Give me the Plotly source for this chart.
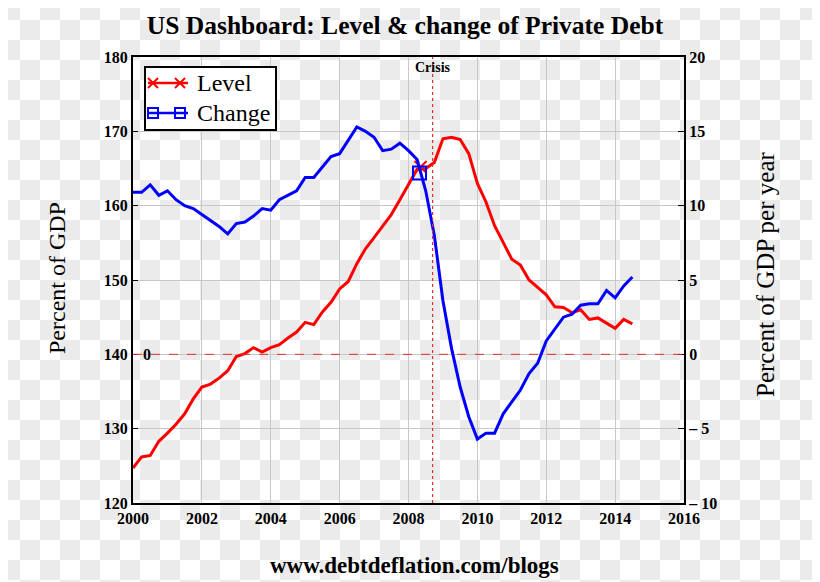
import plotly.graph_objects as go

# ---------------- data ----------------
quarters = [2000 + 0.25 * i for i in range(59)]  # 2000.00 .. 2014.50

level = [124.7, 126.2, 126.4, 128.3, 129.4, 130.6, 132.0, 134.0, 135.6, 136.0,
         136.8, 137.8, 139.7, 140.1, 140.9, 140.3, 140.9, 141.3, 142.2, 143.0,
         144.3, 144.0, 145.7, 147.0, 148.8, 149.8, 152.2, 154.2, 155.7, 157.2,
         158.8, 160.8, 162.8, 164.9, 165.0, 165.8, 169.0, 169.2, 168.9, 167.0,
         163.0, 160.5, 157.3, 155.0, 152.8, 152.0, 150.0, 149.0, 148.0, 146.4,
         146.3, 145.6, 146.0, 144.7, 144.9, 144.2, 143.5, 144.7, 144.1]

change = [10.9, 10.9, 11.4, 10.7, 11.0, 10.4, 10.0, 9.8, 9.4, 9.0,
          8.6, 8.1, 8.8, 8.9, 9.3, 9.8, 9.7, 10.4, 10.7, 11.0,
          11.9, 11.9, 12.6, 13.3, 13.5, 14.4, 15.3, 15.0, 14.6, 13.7,
          13.8, 14.2, 13.7, 13.1, 11.0, 8.0, 3.6, 0.4, -2.2, -4.2,
          -5.7, -5.3, -5.3, -4.0, -3.2, -2.4, -1.3, -0.6, 0.9, 1.7,
          2.5, 2.7, 3.3, 3.4, 3.4, 4.3, 3.8, 4.6, 5.2]

level_marker_x = [2008.35]
level_marker_y = [165.2]
change_marker_x = [2008.32]
change_marker_y = [12.2]

crisis_year = 2008.7
zero_level = 0

x_ticks = list(range(2000, 2017, 2))
left_ticks = [120, 130, 140, 150, 160, 170, 180]
right_ticks = [-10, -5, 0, 5, 10, 15, 20]
right_tick_text = ["\u2013 10", "\u2013 5", "0", "5", "10", "15", "20"]

series_names = ["Level", "Change"]
title_text = "US Dashboard: Level &amp; change of Private Debt"
footer_text = "www.debtdeflation.com/blogs"

# ---------------- layout geometry ----------------
OFF = 8                      # page body margin of the html page
PAGE_W, PAGE_H = 820, 582
W, H = PAGE_W - OFF, PAGE_H - OFF
PL, PR, PT, PB = 133, 684, 57, 503   # plot area in page pixels
L, R, T, B = PL - OFF, PAGE_W - PR, PT - OFF, PAGE_H - PB
PW, PH = PR - PL, PB - PT
SERIF = "Liberation Serif, Times New Roman, serif"
RED = "#ff0000"
BLUE = "#0000ff"


def fx(px):
    """page pixel x -> paper fraction"""
    return (px - PL) / PW


def fy(py):
    """page pixel y -> paper fraction"""
    return (PB - py) / PH


# checkerboard backdrop (transparency pattern of the reference image)
cells = []
for cx in range(0, PAGE_W, 20):
    for cy in range(0, PAGE_H, 20):
        if ((cx // 20) + (cy // 20)) % 2 == 0:
            x0, x1 = fx(max(cx, OFF)), fx(min(cx + 20, PAGE_W))
            y0, y1 = fy(max(cy, OFF)), fy(min(cy + 20, PAGE_H))
            if x1 <= x0 or y1 >= y0:
                continue
            cells.append(f"M{x0:.5f},{y0:.5f}L{x1:.5f},{y0:.5f}L{x1:.5f},{y1:.5f}L{x0:.5f},{y1:.5f}Z")
checker_path = " ".join(cells)

fig = go.Figure()

fig.add_trace(go.Scatter(x=quarters, y=level, mode="lines", name=series_names[0],
                         line=dict(color=RED, width=3), showlegend=False,
                         hoverinfo="skip"))
fig.add_trace(go.Scatter(x=quarters, y=change, mode="lines", yaxis="y2",
                         name=series_names[1],
                         line=dict(color=BLUE, width=3), showlegend=False,
                         hoverinfo="skip"))
fig.add_trace(go.Scatter(x=level_marker_x, y=level_marker_y, mode="markers",
                         showlegend=False, hoverinfo="skip",
                         marker=dict(symbol="x-thin-open", size=12, color=RED,
                                     line=dict(color=RED, width=2))))
fig.add_trace(go.Scatter(x=change_marker_x, y=change_marker_y, mode="markers",
                         yaxis="y2", showlegend=False, hoverinfo="skip",
                         marker=dict(symbol="square-open", size=13, color=BLUE,
                                     line=dict(color=BLUE, width=2))))

tickfont = dict(family=SERIF, size=16, color="black", weight="bold")

# ---------------- hand-drawn legend box (matches reference style) ----------------
legend_shapes = [
    dict(type="rect", xref="paper", yref="paper", x0=fx(145), x1=fx(276),
         y0=fy(67), y1=fy(130), fillcolor="white",
         line=dict(color="black", width=2), layer="above"),
]
legend_annotations = []
rows = [(83, RED, "x"), (113, BLUE, "square")]
for (ry, col, sym), name in zip(rows, series_names):
    legend_shapes.append(dict(type="line", xref="paper", yref="paper",
                              x0=fx(148), x1=fx(188), y0=fy(ry), y1=fy(ry),
                              line=dict(color=col, width=2.5), layer="above"))
    for mx in (153, 180):
        if sym == "x":
            for dy in (-5, 5):
                legend_shapes.append(dict(type="line", xref="paper", yref="paper",
                                          x0=fx(mx - 5), x1=fx(mx + 5),
                                          y0=fy(ry - dy), y1=fy(ry + dy),
                                          line=dict(color=col, width=2), layer="above"))
        else:
            legend_shapes.append(dict(type="rect", xref="paper", yref="paper",
                                      x0=fx(mx - 5), x1=fx(mx + 5),
                                      y0=fy(ry - 5), y1=fy(ry + 5),
                                      line=dict(color=col, width=2), layer="above"))
    legend_annotations.append(dict(text=name, xref="paper", yref="paper",
                                   x=fx(195), y=fy(ry), showarrow=False,
                                   xanchor="left", yanchor="middle",
                                   font=dict(family=SERIF, size=24, color="black")))

fig.update_layout(
    width=W, height=H,
    margin=dict(l=L, r=R, t=T, b=B, pad=0),
    paper_bgcolor="white",
    plot_bgcolor="rgba(0,0,0,0)",
    font=dict(family=SERIF, color="black"),
    showlegend=False,
    title=dict(text="<b>" + title_text + "</b>", x=(405 - OFF) / W, xanchor="center",
               y=1 - (25 - OFF) / H, yanchor="middle",
               font=dict(family=SERIF, size=25.5, color="black")),
    xaxis=dict(range=[2000, 2016], tickvals=x_ticks, showgrid=True,
               gridcolor="#c8c8c8", gridwidth=1, showline=True, linecolor="black",
               linewidth=2, mirror=True, ticks="", tickfont=tickfont,
               zeroline=False, fixedrange=True),
    yaxis=dict(range=[120, 180], tickvals=left_ticks, showgrid=True,
               gridcolor="#c8c8c8", gridwidth=1, showline=True, linecolor="black",
               linewidth=2, mirror=False, ticks="inside", ticklen=5,
               tickcolor="black", tickfont=tickfont, zeroline=False),
    yaxis2=dict(range=[-10, 20], tickvals=right_ticks, ticktext=right_tick_text,
                overlaying="y", side="right", showgrid=False, showline=True,
                linecolor="black", linewidth=2, ticks="inside", ticklen=6,
                tickcolor="black", tickfont=tickfont, zeroline=False),
    shapes=[
        dict(type="path", path=checker_path, xref="paper", yref="paper",
             fillcolor="#ebebeb", line=dict(width=0, color="rgba(0,0,0,0)"),
             layer="below"),
        dict(type="line", xref="paper", yref="y2", x0=0, x1=1,
             y0=zero_level, y1=zero_level, line=dict(color="#e03030", width=1, dash="dash")),
        dict(type="line", xref="x", yref="paper", x0=crisis_year, x1=crisis_year,
             y0=0, y1=1, line=dict(color="#e03030", width=1.2, dash="dot")),
    ] + legend_shapes,
    annotations=[
        dict(text="<b>Crisis</b>", xref="x", yref="paper", x=crisis_year, y=fy(68),
             showarrow=False, font=dict(family=SERIF, size=14, color="black"),
             xanchor="center", yanchor="middle"),
        dict(text="<b>0</b>", xref="paper", yref="y2", x=fx(147), y=zero_level,
             showarrow=False, font=dict(family=SERIF, size=16, color="black"),
             xanchor="center", yanchor="middle"),
        dict(text="Percent of GDP", xref="paper", yref="paper", x=fx(57), y=fy(278),
             textangle=-90, showarrow=False,
             font=dict(family=SERIF, size=24, color="black"),
             xanchor="center", yanchor="middle"),
        dict(text="Percent of GDP per year", xref="paper", yref="paper", x=fx(765),
             y=fy(275), textangle=-90, showarrow=False,
             font=dict(family=SERIF, size=25, color="black"),
             xanchor="center", yanchor="middle"),
        dict(text="<b>" + footer_text + "</b>", xref="paper", yref="paper",
             x=fx(414), y=fy(565), showarrow=False,
             font=dict(family=SERIF, size=23, color="black"),
             xanchor="center", yanchor="middle"),
    ] + legend_annotations,
)

fig.write_html("out.html")
